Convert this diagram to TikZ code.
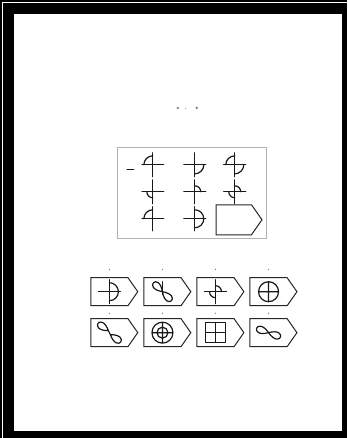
\documentclass[tikz,border=0pt]{standalone}
\usepackage{tikz}
\usetikzlibrary{positioning,shapes.symbols}

\begin{document}
\begin{tikzpicture}[
  x=1pt, y=1pt,
  node distance=12pt and 5pt,
  opcion/.style={signal, signal to=east, signal pointer angle=110, draw=black!85,
               line width=1pt, minimum width=47pt, minimum height=28pt, inner sep=0pt},
  marco/.style={rectangle, draw=black!30, line width=0.8pt, minimum width=149pt,
               minimum height=91pt},
  trazo/.style={line width=1.2pt, line cap=round, line join=round, black!90},
  mancha/.style={circle, fill=black!55, inner sep=0pt, minimum size=#1},
  pics/cruz/.style={code={\draw[trazo] (-11,0) -- (11,0) (0,-12) -- (0,12);}},
  pics/arco/.style args={#1/#2}{code={\draw[trazo] (#1:#2) arc[start angle=#1, delta angle=90, radius=#2];}},
  pics/lazo/.style={code={\draw[trazo, rotate=#1] (0,0) .. controls (17,-12) and (17,12) .. (0,0);}}
]
% marco de la hoja
\fill[black] (0,0) rectangle (347,438);
\fill[white] (14,7) rectangle (342,424);
\draw[white, line width=0.9pt] (2.5,0) -- (2.5,435.5) -- (347,435.5);

% titulo (manchas del escaneo)
\node[mancha=2.4pt] (tit1) at (178,330) {};
\node[mancha=1pt] (tit2) at (186,329.5) {};
\node[mancha=2.4pt] (tit3) at (197,330) {};

% matriz 3x3
\node[marco] (matriz) at (192.5,244.5) {};
\node[opcion, minimum width=46pt, minimum height=30pt] (vacio) at (234,218) {};
\draw[trazo, line width=0.7pt] (127,268) -- (134,268);

\pic at (153,273) {cruz}; \pic at (153,273) {arco=90/9};
\pic at (195,273) {cruz}; \pic at (195,273) {arco=270/9};
\pic at (235,273) {cruz}; \pic at (235,273) {arco=90/9}; \pic at (235,273) {arco=270/9};

\pic at (153,246) {cruz}; \pic at (153,246) {arco=180/6};
\pic at (195,246) {cruz}; \pic at (195,246) {arco=0/6};
\pic at (235,246) {cruz}; \pic at (235,246) {arco=180/6}; \pic at (235,246) {arco=0/6};

\pic at (153,219) {cruz}; \pic at (153,219) {arco=90/9};
\pic at (195,219) {cruz}; \pic at (195,219) {arco=270/9}; \pic at (195,219) {arco=0/9};

% opciones
\node[opcion] (op1) at (109.5,146) {};
\node[opcion, right=of op1] (op2) {};
\node[opcion, right=of op2] (op3) {};
\node[opcion, right=of op3] (op4) {};
\node[opcion, below=of op1] (op5) {};
\node[opcion, right=of op5] (op6) {};
\node[opcion, right=of op6] (op7) {};
\node[opcion, right=of op7] (op8) {};

\foreach \n in {1,2,3,4}
  \node[mancha=1.3pt, above=7pt of op\n] (num\n) {};
\foreach \n in {5,6,7,8}
  \node[mancha=1.3pt, above=4pt of op\n] (num\n) {};

\pic at (op1.center) {cruz};
\pic at (op1.center) {arco=270/9};
\pic at (op1.center) {arco=0/9};

\pic at (op2.center) {lazo=135};
\pic at (op2.center) {lazo=-45};
\draw[trazo] ([yshift=10pt]op2.center) -- ([yshift=-3pt]op2.center);

\pic at (op3.center) {cruz};
\pic at (op3.center) {arco=0/6};
\pic at (op3.center) {arco=180/6};

\draw[trazo] (op4.center) circle[radius=10]
  ([xshift=-10pt]op4.center) -- ([xshift=10pt]op4.center)
  ([yshift=10pt]op4.center) -- ([yshift=-10pt]op4.center);

\pic at ([xshift=-1pt, yshift=2pt]op5.center) {lazo=145};
\pic at ([xshift=1pt, yshift=-2pt]op5.center) {lazo=-35};
\draw[trazo] ([xshift=-1pt, yshift=2pt]op5.center) -- ([xshift=1pt, yshift=-2pt]op5.center);

\draw[trazo] (op6.center) circle[radius=10.5]
  (op6.center) circle[radius=5.5]
  ([xshift=-10.5pt]op6.center) -- ([xshift=10.5pt]op6.center)
  ([yshift=10.5pt]op6.center) -- ([yshift=-10.5pt]op6.center);

\draw[trazo] ([xshift=-10pt, yshift=-10pt]op7.center) rectangle ([xshift=10pt, yshift=10pt]op7.center)
  ([xshift=-10pt]op7.center) -- ([xshift=10pt]op7.center)
  ([yshift=10pt]op7.center) -- ([yshift=-10pt]op7.center);

\pic at (op8.center) {lazo=160};
\pic at (op8.center) {lazo=-20};
\end{tikzpicture}
\end{document}
